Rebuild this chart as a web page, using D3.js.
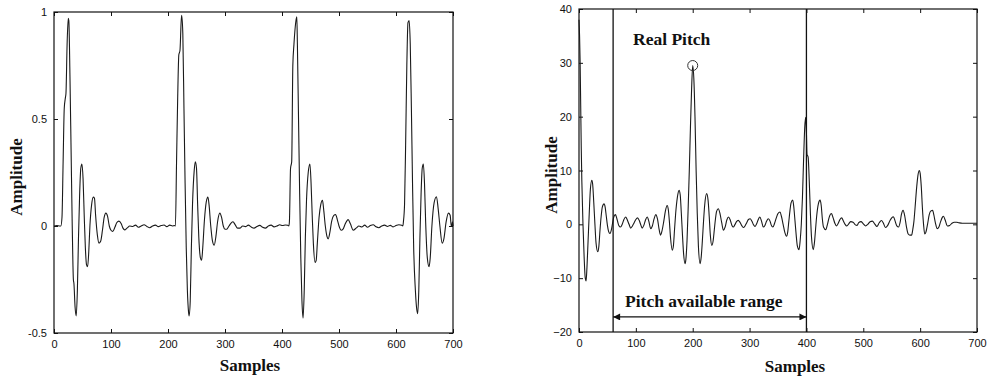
<!DOCTYPE html>
<html><head><meta charset="utf-8">
<script src="https://cdn.jsdelivr.net/npm/d3@7/dist/d3.min.js"></script>
<style>
body{margin:0;background:#fff;}
svg{display:block;}
.tick text{font-family:"Liberation Sans",Arial,sans-serif;font-size:11px;fill:#111;}
.ttl{font-family:"Liberation Serif","Times New Roman",serif;font-weight:bold;fill:#111;}
</style></head>
<body>
<svg id="c" width="987" height="376"></svg>
<script>
// ---------- Left chart: speech waveform ----------
const leftSamples = [0,5,10,12,14,16,18,20,21,23,25,26,28,30,32,34,35,37,39,41,43,45,47,49,51,53,55,57,59,61,63,66,69,71,73,76,79,82,85,88,91,94,97,100,103,107,110,114,118,121,124,128,133,138,143,148,153,158,163,168,173,178,183,188,193,198,203,208,211,
213,215,217,219,221,223,224,226,228,230,232,234,236,237,239,241,243,246,248,250,252,254,257,259,261,264,267,270,272,275,278,281,284,287,291,294,297,300,303,307,311,314,318,322,326,331,336,341,346,351,356,361,366,371,376,381,386,391,396,401,406,410,412,
413,415,417,419,421,424,426,427,429,431,433,435,437,439,441,443,446,449,451,453,455,458,460,462,465,468,471,473,476,479,481,484,487,491,494,497,500,504,507,511,516,520,525,530,535,540,545,550,555,560,565,570,575,580,585,590,595,600,605,610,612,
613,615,617,619,621,623,625,627,629,631,634,636,638,640,642,644,646,648,650,652,655,658,660,663,667,671,674,677,681,684,688,692,695,697,698,699,700];
const leftAmplitude = [0,0.002,0,0,0.04,0.3,0.55,0.6,0.62,0.85,0.97,0.96,0.7,0.35,0.0,-0.25,-0.27,-0.38,-0.42,-0.3,-0.05,0.15,0.27,0.29,0.22,0.05,-0.1,-0.18,-0.19,-0.12,0.0,0.1,0.135,0.13,0.05,-0.04,-0.08,-0.07,-0.02,0.04,0.06,0.045,0.0,-0.02,-0.025,-0.005,0.015,0.023,0.01,-0.01,-0.018,-0.01,0.0,-0.002,0.004,-0.006,0.0,0.006,-0.002,-0.008,0.0,0.004,-0.003,0.002,0.005,-0.003,0.004,0.0,0.002,
0.0,0.3,0.6,0.8,0.82,0.95,0.985,0.9,0.55,0.2,-0.1,-0.3,-0.4,-0.42,-0.35,-0.1,0.1,0.26,0.3,0.27,0.1,-0.05,-0.15,-0.16,-0.1,0.03,0.11,0.135,0.1,0.0,-0.07,-0.09,-0.05,0.02,0.06,0.04,0.0,-0.015,-0.015,0.0,0.015,0.02,0.005,-0.01,-0.01,0.0,-0.003,0.004,-0.005,-0.01,-0.002,0.003,-0.006,-0.01,0.0,0.004,-0.004,0.0,0.006,0.002,0.005,0.003,0.0,
0.02,0.27,0.3,0.75,0.85,0.95,0.977,0.85,0.5,0.15,-0.15,-0.35,-0.43,-0.3,-0.05,0.12,0.25,0.29,0.2,0.05,-0.08,-0.17,-0.16,-0.08,0.04,0.1,0.12,0.08,0.0,-0.05,-0.06,-0.03,0.02,0.05,0.054,0.03,0.0,-0.02,-0.015,0.01,0.03,0.01,-0.02,-0.01,0.0,-0.005,0.004,-0.006,0.002,0.006,-0.004,-0.008,0.0,0.004,-0.002,0.003,-0.004,0.002,0.006,0.003,0.0,
0.02,0.1,0.4,0.75,0.95,0.96,0.85,0.55,0.2,-0.1,-0.3,-0.38,-0.41,-0.3,-0.05,0.15,0.27,0.29,0.2,0.02,-0.15,-0.19,-0.15,0.0,0.11,0.137,0.08,0.0,-0.08,-0.06,0.02,0.06,0.05,0.0,0.0,0.02,0.0];
const leftXTicks = [0,100,200,300,400,500,600,700];
const leftYTicks = [-0.5,0,0.5,1];
const leftYTickLabels = ["-0.5","0","0.5","1"];

// ---------- Right chart: autocorrelation ----------
const rightSamples = [0,1,2,3,4,5,7,9,11,12.5,14,16,18,20,22.5,24,26,28,30,33,35,37,39,41,44,46,48,50,52,54.5,57,59,61,64,66,68,70,73,76,79,82,85,88,91,94,97,100,103,106,109,111,114,117,120,123,126,129,132,135,138,141,143.5,146,149,152,155,157,159,161,164,166,168,170,173,176,178,180,182,184,186.5,188,190,192,194,196,198,200,202,204,206,208,210,213,215,217,219,221,224.5,227,229,231,233.5,236,238,240,242,245,248,251,254,257,260,263,266,269,271.5,274,277,280,283,286,289,292,295,298,301,304,307,309.5,312,315,318,321,324,327,330,333,336,338,341,344,347,350,353.5,356,359,362,365,367,369,371,373,376,378,380,382,384,387,389,391,393,395,397,398.6,400,401,403,405,407,409,412,414,416,418,421,424,426,428,430,434,437,440,444,447,450,453,456,459,462,465,468,471,475,478,482,486,489,492,496,500,504,508,512,516,520,524,528,532,535,539,543,547,550,553,556,559,562,565,567,570,573,576,579,582,585,587,589,591,594,596,598.6,600,602,604,606,608,610,613,616,619,622,624,627,630,633,636,639,641,644,648,652,656,660,664,668,674,680,690,700];
const rightAmplitude = [38,35,30,22,14,8,0,-6,-10,-10.5,-8,-3,2,6.5,8.2,7.5,4,0,-3.5,-5.1,-4,-1,1.5,3.2,3.8,3.2,1.5,-0.2,-1.3,-1.7,-1.0,0.2,1.3,1.8,1.3,0.5,-0.2,-0.5,0.0,0.9,1.36,0.8,0.0,-0.7,-0.3,0.3,0.9,1.2,0.7,-0.2,-0.7,-0.2,0.8,1.36,0.5,-0.8,-0.3,1.0,1.8,1.0,-1.0,-2.0,-1.2,0.5,2.5,3.5,2.8,0.5,-2.5,-4.8,-4.0,-1.0,2.0,5.0,6.3,5.5,2.0,-2.0,-5.5,-7.3,-6.5,-3,3,10,18,25,29.5,27,20,10,2,-4,-7.3,-6,-3,0.5,3.5,5.7,4.5,1.5,-2,-3.9,-3,-1,1,2.4,2.9,2.0,0.3,-1.1,-0.5,0.8,1.36,0.8,-0.2,-0.5,-0.1,0.5,0.74,0.4,-0.2,-0.6,-0.3,0.3,0.9,1.05,0.6,-0.1,-0.4,0.0,0.8,1.36,0.6,-0.5,-0.2,0.6,1.05,0.6,-0.1,-0.5,0.2,1.2,2.0,2.3,1.5,0.0,-1.5,-2.2,-1.5,0.5,2.5,4.0,4.5,3.0,0.5,-2.0,-4.0,-4.7,-3.0,0.0,5.0,12,18,19.9,17,13,12.5,8,2,-2.5,-4.7,-3.5,-1,1.5,3.8,4.5,3.5,1.0,-0.5,-1.0,0.0,1.3,2.0,1.2,0.2,-0.3,0.2,0.9,1.2,0.6,0.0,-0.3,0.2,0.5,0.4,-0.1,-0.2,0.3,0.5,0.1,-0.3,0.0,0.5,0.6,0.1,-0.4,0.3,0.7,0.3,-0.6,-0.2,0.7,1.2,1.4,0.6,-0.3,-0.5,0.5,1.8,2.6,1.5,-0.5,-1.8,-2.0,-2.0,-1.0,0.5,3,7,9,10,9.5,7,3,0.0,-1.8,-1.5,0.0,1.8,2.5,2.6,1.8,0.2,-0.8,-0.5,0.5,1.3,1.5,0.8,-0.3,-0.2,0.2,0.4,0.4,0.3,0.2,0.2,0.2,0.2];
const rightXTicks = [0,100,200,300,400,500,600,700];
const rightYTicks = [-20,-10,0,10,20,30,40];
const pitchRange = [60,400];
const realPitch = {sample:200, value:29.5};
const arrowLevel = -17.2;

const svg = d3.select("#c");

function panel(cfg){
  const {x0,x1,y0,y1,xDom,yDom,xs,ys,xTicks,yTicks,yFmt} = cfg;
  const x = d3.scaleLinear().domain(xDom).range([x0,x1]);
  const y = d3.scaleLinear().domain(yDom).range([y1,y0]);
  const g = svg.append("g");
  const tl = 4;
  // axes
  const bx = g.append("g").attr("transform",`translate(0,${y1})`)
    .call(d3.axisBottom(x).tickValues(xTicks).tickSizeInner(-tl).tickSizeOuter(0).tickPadding(7).tickFormat(d3.format("d")));
  const tx = g.append("g").attr("transform",`translate(0,${y0})`)
    .call(d3.axisTop(x).tickValues(xTicks).tickSizeInner(-tl).tickSizeOuter(0).tickFormat(""));
  const ly = g.append("g").attr("transform",`translate(${x0},0)`)
    .call(d3.axisLeft(y).tickValues(yTicks).tickSizeInner(-tl).tickSizeOuter(0).tickPadding(7).tickFormat(yFmt));
  const ry = g.append("g").attr("transform",`translate(${x1},0)`)
    .call(d3.axisRight(y).tickValues(yTicks).tickSizeInner(-tl).tickSizeOuter(0).tickFormat(""));
  g.selectAll(".domain").remove();
  g.selectAll(".tick line").attr("stroke","#111").attr("stroke-width",1);
  g.selectAll(".tick text").attr("fill","#111");
  // box
  g.append("rect").attr("x",x0).attr("y",y0).attr("width",x1-x0).attr("height",y1-y0)
    .attr("fill","none").attr("stroke","#111").attr("stroke-width",1.2);
  // line
  const line = d3.line().x((d,i)=>x(xs[i])).y((d,i)=>y(ys[i])).curve(d3.curveMonotoneX);
  g.append("path").datum(xs).attr("d",line).attr("fill","none").attr("stroke","#1a1a1a").attr("stroke-width",1.1);
  return {g,x,y};
}

const L = panel({x0:54,x1:453,y0:12,y1:333,xDom:[0,700],yDom:[-0.5,1],xs:leftSamples,ys:leftAmplitude,
  xTicks:leftXTicks,yTicks:leftYTicks,yFmt:(d,i)=>leftYTickLabels[i]});
const R = panel({x0:579,x1:977,y0:9,y1:332,xDom:[0,700],yDom:[-20,40],xs:rightSamples,ys:rightAmplitude,
  xTicks:rightXTicks,yTicks:rightYTicks,yFmt:d3.format("d")});

// axis titles
svg.append("text").attr("class","ttl").attr("font-size",17).attr("text-anchor","middle")
  .attr("transform","translate(22,177) rotate(-90)").text("Amplitude");
svg.append("text").attr("class","ttl").attr("font-size",17).attr("text-anchor","middle")
  .attr("x",250).attr("y",371).text("Samples");
svg.append("text").attr("class","ttl").attr("font-size",17).attr("text-anchor","middle")
  .attr("transform","translate(557,175) rotate(-90)").text("Amplitude");
svg.append("text").attr("class","ttl").attr("font-size",17).attr("text-anchor","middle")
  .attr("x",795).attr("y",372).text("Samples");

// right annotations
const defs = svg.append("defs");
["s","e"].forEach(k=>{
  defs.append("marker").attr("id","ar"+k).attr("viewBox","0 0 10 10").attr("refX",10).attr("refY",5)
    .attr("markerWidth",10).attr("markerHeight",7).attr("markerUnits","userSpaceOnUse")
    .attr("orient","auto-start-reverse")
    .append("path").attr("d","M0,0 L10,5 L0,10 Z").attr("fill","#111");
});
pitchRange.forEach(v=>{
  R.g.append("line").attr("x1",R.x(v)).attr("x2",R.x(v)).attr("y1",R.y(40)).attr("y2",R.y(-20))
    .attr("stroke","#111").attr("stroke-width",1.3);
});
R.g.append("line").attr("x1",R.x(pitchRange[0])).attr("x2",R.x(pitchRange[1]))
  .attr("y1",R.y(arrowLevel)).attr("y2",R.y(arrowLevel))
  .attr("stroke","#111").attr("stroke-width",1.2)
  .attr("marker-start","url(#ars)").attr("marker-end","url(#are)");
R.g.append("circle").attr("cx",R.x(realPitch.sample)).attr("cy",R.y(realPitch.value)).attr("r",5)
  .attr("fill","none").attr("stroke","#333").attr("stroke-width",1);
svg.append("text").attr("class","ttl").attr("font-size",17.5).attr("x",633).attr("y",45).text("Real Pitch");
svg.append("text").attr("class","ttl").attr("font-size",17.5).attr("x",625).attr("y",307).text("Pitch available range");
</script>
</body></html>
